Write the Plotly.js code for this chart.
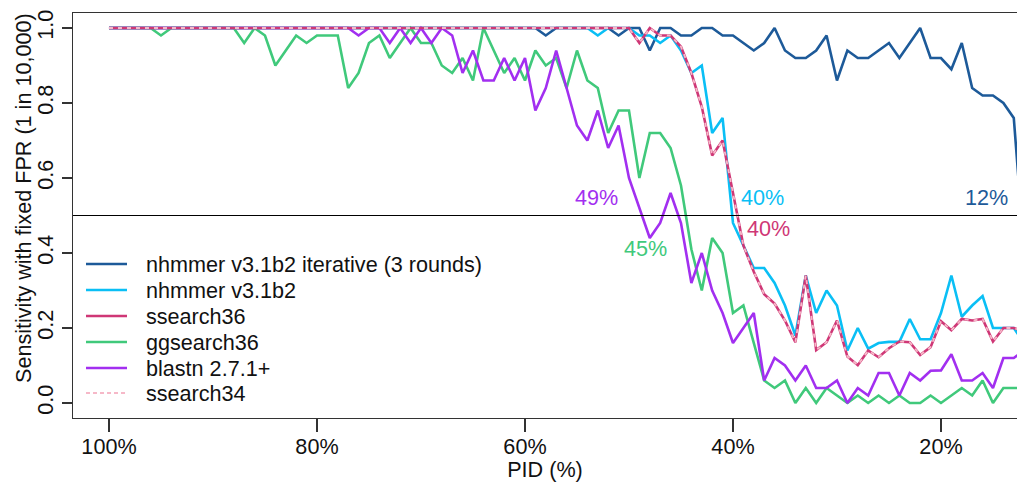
<!DOCTYPE html>
<html>
<head>
<meta charset="utf-8">
<script src="https://cdn.plot.ly/plotly-3.0.1.min.js"></script>
<style>html,body{margin:0;padding:0;background:#fff;}#chart{width:1017px;height:482px;}</style>
</head>
<body>
<div id="chart"></div>
<script>
// PID (%) values, 100 down to 12
const pid = [
  100,99,98,97,96,95,94,93,92,91,
  90,89,88,87,86,85,84,83,82,81,
  80,79,78,77,76,75,74,73,72,71,
  70,69,68,67,66,65,64,63,62,61,
  60,59,58,57,56,55,54,53,52,51,
  50,49,48,47,46,45,44,43,42,41,
  40,39,38,37,36,35,34,33,32,31,
  30,29,28,27,26,25,24,23,22,21,
  20,19,18,17,16,15,14,13,12
];

const nhmmerIterative = [
  1,1,1,1,1,1,1,1,1,1,
  1,1,1,1,1,1,1,1,1,1,
  1,1,1,1,1,1,1,1,1,1,
  1,1,1,1,1,1,1,1,1,1,
  1,1,0.98,1,1,1,1,1,1,0.98,
  1,1,0.94,1,1,0.98,0.98,1,1,0.98,
  0.98,0.96,0.94,0.96,1.0,0.94,0.92,0.92,0.94,0.98,
  0.86,0.94,0.92,0.92,0.94,0.96,0.92,0.96,1.0,0.92,
  0.92,0.89,0.96,0.84,0.82,0.82,0.80,0.76,0.40
];

const nhmmer = [
  1,1,1,1,1,1,1,1,1,1,
  1,1,1,1,1,1,1,1,1,1,
  1,1,1,1,1,1,1,1,1,1,
  1,1,1,1,1,1,1,1,1,1,
  1,1,1,1,1,1,1,0.98,1,1,
  1,0.98,0.98,0.96,0.98,0.94,0.88,0.90,0.72,0.76,
  0.48,0.42,0.36,0.36,0.32,0.26,0.18,0.34,0.24,0.30,
  0.26,0.14,0.20,0.145,0.16,0.163,0.163,0.224,0.17,0.17,
  0.24,0.34,0.23,0.26,0.285,0.20,0.20,0.20,0.16
];

const ssearch36 = [
  1,1,1,1,1,1,1,1,1,1,
  1,1,1,1,1,1,1,1,1,1,
  1,1,1,1,1,1,1,1,1,1,
  1,1,1,1,1,1,1,1,1,1,
  1,1,1,1,1,1,1,1,1,1,
  1,0.96,1,0.98,0.98,0.95,0.88,0.79,0.66,0.70,
  0.56,0.42,0.35,0.29,0.265,0.22,0.162,0.34,0.141,0.162,
  0.22,0.124,0.101,0.14,0.122,0.146,0.164,0.162,0.128,0.149,
  0.218,0.194,0.224,0.22,0.224,0.164,0.20,0.20,0.19
];

const ggsearch36 = [
  1,1,1,1,1,0.98,1,1,1,1,
  1,1,1,0.96,1,0.98,0.90,0.94,0.98,0.96,
  0.98,0.98,0.98,0.84,0.88,0.96,0.98,0.92,0.96,1.0,
  0.96,0.96,0.90,0.88,0.92,0.86,1.0,0.94,0.88,0.92,
  0.86,0.94,0.90,0.92,0.84,0.94,0.86,0.84,0.72,0.78,
  0.78,0.60,0.72,0.72,0.68,0.58,0.41,0.30,0.44,0.40,
  0.24,0.26,0.16,0.06,0.04,0.06,0.0,0.04,0.0,0.04,
  0.02,0.0,0.02,0.0,0.02,0.0,0.02,0.0,0.0,0.02,
  0.0,0.02,0.04,0.02,0.06,0.0,0.04,0.04,0.04
];

const blastn = [
  1,1,1,1,1,1,1,1,1,1,
  1,1,1,1,1,1,1,1,1,1,
  1,1,1,1,0.98,1,1,0.96,1,0.96,
  1,0.96,1,0.98,0.88,0.94,0.86,0.86,0.92,0.86,
  0.92,0.78,0.84,0.94,0.84,0.74,0.70,0.78,0.68,0.74,
  0.60,0.52,0.44,0.48,0.56,0.48,0.32,0.40,0.30,0.24,
  0.16,0.20,0.24,0.06,0.12,0.10,0.06,0.10,0.04,0.04,
  0.06,0.0,0.04,0.02,0.08,0.08,0.02,0.08,0.06,0.086,
  0.087,0.13,0.06,0.06,0.08,0.04,0.12,0.12,0.14
];

const ssearch34 = [
  1,1,1,1,1,1,1,1,1,1,
  1,1,1,1,1,1,1,1,1,1,
  1,1,1,1,1,1,1,1,1,1,
  1,1,1,1,1,1,1,1,1,1,
  1,1,1,1,1,1,1,1,1,1,
  1,0.96,1,0.98,0.98,0.95,0.88,0.79,0.66,0.70,
  0.56,0.42,0.35,0.29,0.265,0.22,0.162,0.34,0.141,0.162,
  0.22,0.124,0.101,0.14,0.122,0.146,0.164,0.162,0.128,0.149,
  0.218,0.194,0.224,0.22,0.224,0.164,0.20,0.20,0.19
];

const seriesNames = ['nhmmer v3.1b2 iterative (3 rounds)','nhmmer v3.1b2','ssearch36','ggsearch36','blastn 2.7.1+','ssearch34'];
const xTickVals = [100,80,60,40,20];
const xTickText = ['100%','80%','60%','40%','20%'];
const yTickVals = [0,0.2,0.4,0.6,0.8,1.0];
const yTickText = ['0.0','0.2','0.4','0.6','0.8','1.0'];
const threshold = 0.5;
const xTitle = 'PID (%)';
const yTitle = 'Sensitivity with fixed FPR (1 in 10,000)';
const labelTexts = ['49%','45%','40%','40%','12%'];

const colors = ['#1d5a99','#0abff5','#cf3776','#40c97b','#a22ff0','#f6b8c8'];
const FS = 21.6;

function tr(y, idx, extra){
  return Object.assign({
    x: pid, y: y, name: seriesNames[idx], type:'scatter', mode:'lines',
    line:{color:colors[idx], width:2.6}, showlegend:false
  }, extra||{});
}

// drawing order: blues, green, purple, ssearch36, ssearch34 on top
const data = [
  tr(nhmmerIterative, 0),
  tr(nhmmer, 1),
  tr(ggsearch36, 3),
  tr(blastn, 4),
  tr(ssearch36, 2),
  tr(ssearch34, 5, {line:{color:colors[5], width:1.8, dash:'4px,5px'}})
];

// plot-area pixel geometry helpers (plot area: x 73..1017, y 13..418)
const PL = 73, PW = 944, PB = 418, PH = 405;
const px2paperX = p => (p - PL) / PW;
const px2paperY = p => (PB - p) / PH;

// manual legend (R-style, no box)
const legendRowsPx = [264, 290, 316, 342, 368, 393];
const shapes = [
  {type:'line', xref:'paper', x0:0, x1:1, yref:'y', y0:threshold, y1:threshold,
   line:{color:'#000', width:1.2}, layer:'above'}
];
const annotations = [];
seriesNames.forEach((nm, i) => {
  const yy = px2paperY(legendRowsPx[i]);
  shapes.push({type:'line', xref:'paper', yref:'paper',
    x0:px2paperX(86), x1:px2paperX(127), y0:yy, y1:yy,
    line:{color:colors[i], width: i===5 ? 1.8 : 2.6, dash: i===5 ? '4px,3px' : 'solid'}});
  annotations.push({xref:'paper', yref:'paper', x:px2paperX(144), y:yy,
    xanchor:'left', yanchor:'middle', text:nm, showarrow:false,
    font:{size:FS, color:'#111'}});
});

// y-axis title as rotated text
annotations.push({xref:'paper', yref:'paper', x:px2paperX(23), y:px2paperY(198),
  xanchor:'center', yanchor:'middle', textangle:-90, text:yTitle, showarrow:false,
  font:{size:FS, color:'#111'}});

// crossing labels
const labelPos = [[53.1,0.549,4],[48.46,0.411,3],[37.12,0.548,1],[36.59,0.465,2],[15.67,0.548,0]];
labelPos.forEach((p, i) => {
  annotations.push({x:p[0], y:p[1], xref:'x', yref:'y', text:labelTexts[i], showarrow:false,
    font:{color:colors[p[2]], size:FS}});
});

const layout = {
  width:1017, height:482,
  margin:{l:73, r:0, t:13, b:64, pad:0},
  paper_bgcolor:'#fff', plot_bgcolor:'#fff',
  font:{family:'Liberation Sans, Arial, Helvetica, sans-serif', size:FS, color:'#111'},
  showlegend:false,
  xaxis:{
    range:[103.46, 12.69], tickmode:'array', tickvals:xTickVals, ticktext:xTickText,
    ticks:'outside', ticklen:13, tickwidth:1.3, tickcolor:'#333', ticklabelstandoff:-4,
    showline:true, linecolor:'#333', linewidth:1.3, mirror:true,
    showgrid:false, zeroline:false,
    title:{text:xTitle, standoff:12, font:{size:FS}}
  },
  yaxis:{
    range:[-0.04, 1.04], tickmode:'array', tickvals:yTickVals, ticktext:yTickText,
    tickangle:-90, ticks:'outside', ticklen:10, tickwidth:1.3, tickcolor:'#333',
    showline:true, linecolor:'#333', linewidth:1.3, mirror:false,
    showgrid:false, zeroline:false
  },
  shapes: shapes,
  annotations: annotations
};

Plotly.newPlot('chart', data, layout, {displayModeBar:false, staticPlot:true});
</script>
</body>
</html>
